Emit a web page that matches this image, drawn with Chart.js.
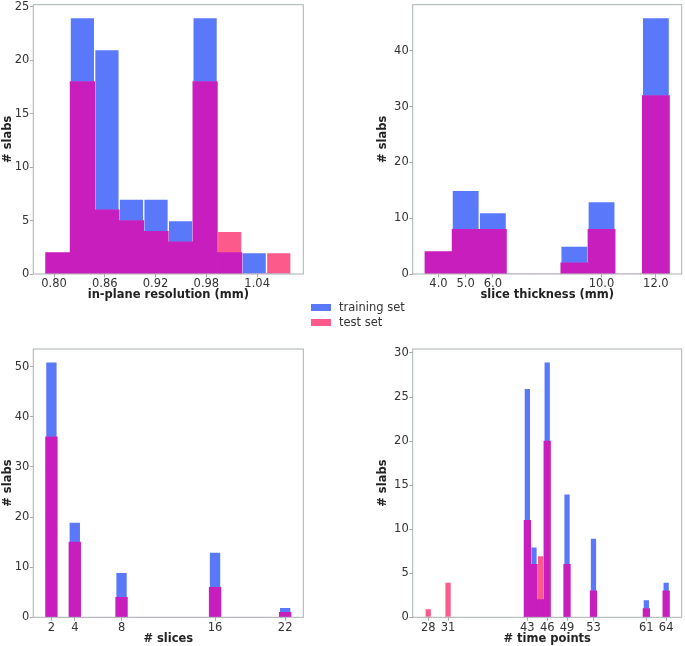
<!DOCTYPE html>
<html>
<head>
<meta charset="utf-8">
<script src="https://cdn.jsdelivr.net/npm/chart.js@4.4.0/dist/chart.umd.min.js"></script>
<style>
body { margin: 0; background: #fff; width: 685px; height: 646px; position: relative; overflow: hidden; font-family: "DejaVu Sans", sans-serif; }
canvas { position: absolute; }
.sw { position: absolute; left: 311px; width: 20px; height: 7px; }
.lab { position: absolute; left: 339px; font-size: 11.5px; line-height: 14px; color: #333; }
</style>
</head>
<body>
<canvas id="chartOne" width="320" height="315" style="left:0;top:-3px"></canvas>
<canvas id="chartTwo" width="315" height="315" style="left:370px;top:-3px"></canvas>
<canvas id="chartThree" width="320" height="316" style="left:0;top:330px"></canvas>
<canvas id="chartFour" width="315" height="316" style="left:370px;top:330px"></canvas>

<div class="sw" style="top:303.5px;background:#5a78fa"></div>
<div class="lab" style="top:300px">training set</div>
<div class="sw" style="top:318.5px;background:#fd5a8c"></div>
<div class="lab" style="top:315px">test set</div>

<script>
// in-plane resolution (mm), bin centres
const resBins = [0.8045, 0.8335, 0.8625, 0.8915, 0.9205, 0.9495, 0.9785, 1.0075, 1.0365, 1.0655];
const resTrain = [2, 24, 21, 7, 7, 5, 24, 2, 2, 0];
const resTest = [2, 18, 6, 5, 4, 3, 18, 4, 0, 2];
const resTicks = [0.80, 0.86, 0.92, 0.98, 1.04];

// slice thickness (mm)
const thickBins = [4, 5, 6, 7, 8, 9, 10, 11, 12];
const thickTrain = [4, 15, 11, 0, 0, 5, 13, 0, 46];
const thickTest = [4, 8, 8, 0, 0, 2, 8, 0, 32];
const thickTicks = [4, 5, 6, 10, 12];

// # slices
const sliceBins = [2, 3, 4, 5, 6, 7, 8, 9, 10, 11, 12, 13, 14, 15, 16, 17, 18, 19, 20, 21, 22];
const sliceTrain = [51, 0, 19, 0, 0, 0, 9, 0, 0, 0, 0, 0, 0, 0, 13, 0, 0, 0, 0, 0, 2];
const sliceTest = [36, 0, 15, 0, 0, 0, 4, 0, 0, 0, 0, 0, 0, 0, 6, 0, 0, 0, 0, 0, 1];
const sliceTicks = [2, 4, 8, 16, 22];

// # time points
const timeBins = [28, 31, 43, 44, 45, 46, 49, 53, 61, 64];
const timeTrain = [0, 0, 26, 8, 2, 29, 14, 9, 2, 4];
const timeTest = [1, 4, 11, 6, 7, 20, 6, 3, 1, 3];
const timeTicks = [28, 31, 43, 46, 49, 53, 61, 64];

const font = { family: 'DejaVu Sans', size: 11.5 };
const bold = { family: 'DejaVu Sans', size: 11.5, weight: 'bold' };

// matplotlib style box around the plot area
const frame = {
  id: 'frame',
  afterDraw(chart) {
    const a = chart.chartArea;
    const ctx = chart.ctx;
    ctx.save();
    ctx.strokeStyle = '#a9b1b1';
    ctx.lineWidth = 1;
    ctx.strokeRect(a.left, a.top, a.right - a.left, a.bottom - a.top);
    ctx.restore();
  }
};

function histogram(id, box, area, o) {
  const both = o.train.map((v, i) => Math.min(v, o.test[i]));
  const pts = arr => arr.map((v, i) => ({ x: o.bins[i], y: v }));
  const edge = 'rgba(255,255,255,0.35)';

  return new Chart(document.getElementById(id), {
    type: 'bar',
    data: {
      datasets: [
        { label: 'overlap', data: pts(both), backgroundColor: '#c81ebe', order: 0 },
        { label: 'test set', data: pts(o.test), backgroundColor: '#fd5a8c', borderColor: edge, borderWidth: 1, order: 1 },
        { label: 'training set', data: pts(o.train), backgroundColor: '#5a78fa', borderColor: edge, borderWidth: 1, order: 2 }
      ]
    },
    options: {
      responsive: false,
      animation: false,
      devicePixelRatio: 1,
      datasets: { bar: { grouped: false, barPercentage: 1, categoryPercentage: 1 } },
      layout: { padding: { left: 0, bottom: 0, top: area.t - box.top, right: box.left + box.w - area.r } },
      plugins: { legend: { display: false }, tooltip: { enabled: false } },
      scales: {
        x: {
          type: 'linear',
          offset: false,
          min: o.xMin,
          max: o.xMax,
          afterBuildTicks: s => { s.ticks = o.xTicks.map(v => ({ value: v })); },
          afterFit: s => { s.height = box.top + box.h - area.b; },
          ticks: { callback: v => v.toFixed(o.digits), font, color: '#333', padding: 0, maxRotation: 0, autoSkip: false },
          grid: { display: true, drawOnChartArea: false, offset: false, tickLength: 3.5, tickColor: '#aaa' },
          border: { display: false },
          title: { display: true, text: o.xTitle, font: bold, color: '#222', padding: { top: 0, bottom: box.top + box.h - 6.9 - o.xTitleY } }
        },
        y: {
          min: 0,
          max: o.yMax,
          afterBuildTicks: s => { s.ticks = o.yTicks.map(v => ({ value: v })); },
          afterFit: s => { s.width = area.l - box.left; },
          ticks: { font, color: '#333', padding: 0.5 },
          grid: { display: true, drawOnChartArea: false, tickLength: 3.5, tickColor: '#aaa' },
          border: { display: false },
          title: { display: true, text: '# slabs', font: bold, color: '#222', padding: { top: o.yTitleX - box.left - 6.9, bottom: 0 } }
        }
      }
    },
    plugins: [frame]
  });
}

histogram('chartOne',
  { left: 0, top: -3, w: 320, h: 315 },
  { l: 33.3, t: 4.7, r: 303.3, b: 274 },
  { bins: resBins, train: resTrain, test: resTest, xTicks: resTicks, digits: 2,
    xMin: 0.7755, xMax: 1.0945, yMax: 25.2, yTicks: [0, 5, 10, 15, 20, 25],
    xTitle: 'in-plane resolution (mm)', xTitleY: 295, yTitleX: 7.7 });

histogram('chartTwo',
  { left: 370, top: -3, w: 315, h: 315 },
  { l: 412.7, t: 4.7, r: 681.7, b: 274 },
  { bins: thickBins, train: thickTrain, test: thickTest, xTicks: thickTicks, digits: 1,
    xMin: 3.05, xMax: 12.95, yMax: 48.3, yTicks: [0, 10, 20, 30, 40],
    xTitle: 'slice thickness (mm)', xTitleY: 295, yTitleX: 383.3 });

histogram('chartThree',
  { left: 0, top: 330, w: 320, h: 316 },
  { l: 33.3, t: 349, r: 303.3, b: 617.3 },
  { bins: sliceBins, train: sliceTrain, test: sliceTest, xTicks: sliceTicks, digits: 0,
    xMin: 0.45, xMax: 23.55, yMax: 53.55, yTicks: [0, 10, 20, 30, 40, 50],
    xTitle: '# slices', xTitleY: 639, yTitleX: 7.7 });

histogram('chartFour',
  { left: 370, top: 330, w: 315, h: 316 },
  { l: 412.7, t: 349, r: 681.7, b: 617.3 },
  { bins: timeBins, train: timeTrain, test: timeTest, xTicks: timeTicks, digits: 0,
    xMin: 25.65, xMax: 66.35, yMax: 30.45, yTicks: [0, 5, 10, 15, 20, 25, 30],
    xTitle: '# time points', xTitleY: 639, yTitleX: 383.3 });
</script>
</body>
</html>
